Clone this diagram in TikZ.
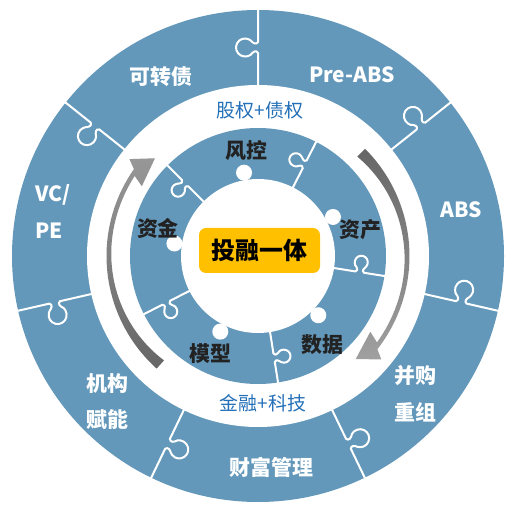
\documentclass[tikz,border=0pt]{standalone}
\usepackage{fontspec}
\newfontfamily\cjk{Noto Sans CJK SC}
\definecolor{ringblue}{HTML}{6398BB}
\definecolor{txtblue}{HTML}{2470B8}
\definecolor{darktxt}{HTML}{222222}
\definecolor{boxyellow}{HTML}{FFC000}
\definecolor{arrdark}{HTML}{666666}
\definecolor{arrlight}{HTML}{A0A0A0}
\begin{document}
\begin{tikzpicture}[x=1bp,y=1bp,
  divider/.style={draw=white, line width=2bp, rounded corners=1.5bp},
  outerlabel/.style={text=white, font=\cjk\bfseries\fontsize{21}{37}\selectfont, align=center, inner sep=0pt},
  innerlabel/.style={text=darktxt, font=\cjk\bfseries\fontsize{21}{25}\selectfont, inner sep=0pt},
  gaplabel/.style={text=txtblue, font=\cjk\fontsize{19}{23}\selectfont, inner sep=0pt},
  centerbox/.style={fill=boxyellow, rounded corners=7bp, minimum width=121bp, minimum height=45bp,
    font=\cjk\bfseries\fontsize{24}{28}\selectfont, text=black, inner sep=0pt}
]
\useasboundingbox (-258,-257) rectangle (257,256);
% rings
\fill[ringblue] (0,0) circle[radius=246];
\fill[white] (0,0) circle[radius=171];
\fill[ringblue] (0,0) circle[radius=128];
\fill[white] (0,0) circle[radius=77];
\foreach \a in {99.5,27.5,-44.5,-116.5,171.5}
  \fill[white] (\a:84.5) circle[radius=8];
% outer puzzle dividers
\foreach \k in {0,...,6} {
  \pgfmathsetmacro\a{90-\k*360/7}
  \draw[divider, rotate=\a] (170,0) -- (204.5,0) -- (204.5,4.94)
    arc[start angle=243.6, end angle=-63.6, radius=9] -- (212.5,0) -- (247,0);
}
% inner puzzle dividers
\foreach \a in {135,63,-9,-81,-153} {
  \draw[divider, rotate=\a] (76,0) -- (100,0) -- (100,4.23)
    arc[start angle=242.5, end angle=-62.5, radius=6.5] -- (106,0) -- (129,0);
}
% curved arrows
\shade[top color=arrdark, bottom color=arrlight]
  plot[domain=0:83, samples=40, variable=\p] ({45-\p}:151.5)
  -- ({45-85}:161) -- ({45-91.5}:142) -- ({45-79}:135.5)
  -- plot[domain=0:81, samples=40, variable=\q]
     ({45-81+\q}:{147-6.5*max(0,1-(81-\q)/60)^2})
  -- cycle;
\shade[top color=arrlight!85!arrdark, bottom color=arrdark]
  plot[domain=0:83, samples=40, variable=\p] ({228-\p}:151.5)
  -- ({228-85}:161) -- ({228-91.5}:142) -- ({228-79}:135.5)
  -- plot[domain=0:81, samples=40, variable=\q]
     ({228-81+\q}:{147-6.5*max(0,1-(81-\q)/60)^2})
  -- cycle;
% center
\node[centerbox] (center) at (1.5,5.5) {投融一体};
% outer labels
\node[outerlabel] (kzz) at (-97,179) {可转债};
\node[outerlabel] (preabs) at (94,181) {Pre-ABS};
\node[outerlabel] (abs) at (203,46) {ABS};
\node[outerlabel, align=left, anchor=west] (vcpe) at (-223,44.5) {VC/\\PE};
\node[outerlabel] (bgcz) at (157,-137.5) {并购\\重组};
\node[outerlabel] (cfgl) at (13.5,-211) {财富管理};
\node[outerlabel] (jgfn) at (-150.5,-145.5) {机构\\赋能};
% inner labels
\node[innerlabel] (fk) at (-12,105) {风控};
\node[innerlabel] (zc) at (102,26) {资产};
\node[innerlabel] (sj) at (64,-89) {数据};
\node[innerlabel] (mx) at (-48,-98) {模型};
\node[innerlabel] (zj) at (-100,28) {资金};
% gap labels
\node[gaplabel] (gq) at (2,146) {股权+债权};
\node[gaplabel] (jr) at (5,-147) {金融+科技};
\end{tikzpicture}
\end{document}
